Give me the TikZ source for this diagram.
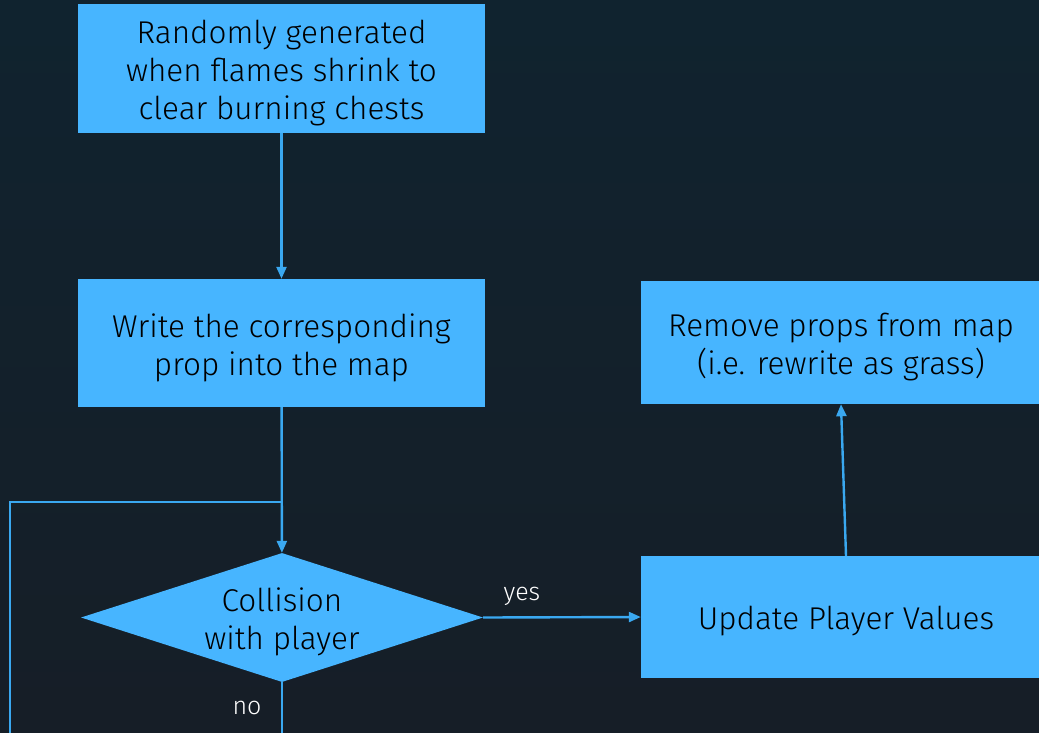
\documentclass[tikz,border=0pt]{standalone}
\usepackage{fontspec}
\setmainfont{Fira Sans}[UprightFont={* Light}]
\usetikzlibrary{shapes.geometric,arrows.meta}
\definecolor{bgtop}{HTML}{10232F}
\definecolor{bgbot}{HTML}{161E27}
\definecolor{boxblue}{HTML}{47B5FF}
\definecolor{linkblue}{HTML}{3AA8F0}
\tikzset{
  stepbox/.style={rectangle, fill=boxblue, draw=none, inner sep=0pt},
  decision/.style={diamond, fill=boxblue, draw=none, inner sep=0pt,
    aspect=3.1, minimum width=402pt, minimum height=129pt},
  boxtext/.style={align=center, inner sep=0pt, text=black,
    font=\fontsize{31.5}{38}\selectfont, yshift=-4.5pt},
  link/.style={draw=linkblue, line width=2.4pt, -{Triangle[length=12pt,width=10pt]}},
  plainlink/.style={draw=linkblue, line width=2.4pt},
  tag/.style={font=\fontsize{25}{28}\selectfont, text=white, inner sep=0pt}
}
\begin{document}
\begin{tikzpicture}[x=1pt,y=-1pt]
  \useasboundingbox (0,0) rectangle (1039,732);
  \shade[top color=bgtop, bottom color=bgbot] (0,0) rectangle (1039,732);
  \clip (0,0) rectangle (1039,732);

  % shapes
  \node[stepbox, minimum width=407pt, minimum height=129pt] (gen) at (281.5,68.5) {};
  \node[stepbox, minimum width=407pt, minimum height=128pt] (write) at (281.5,343) {};
  \node[decision] (hit) at (282,617.5) {};
  \node[stepbox, minimum width=410pt, minimum height=122pt] (upd) at (846,617) {};
  \node[stepbox, minimum width=400pt, minimum height=123pt] (rem) at (841,342.5) {};

  % their texts
  \node[boxtext] (gen-t) at (gen.center)
    {Randomly generated\\when flames shrink to\\clear burning chests};
  \node[boxtext] (write-t) at (write.center) {Write the corresponding\\prop into the map};
  \node[boxtext] (hit-t) at (hit.center) {Collision\\with player};
  \node[boxtext] (upd-t) at (upd.center) {Update Player Values};
  \node[boxtext] (rem-t) at (rem.center) {Remove props from map\\(i.e. rewrite as grass)};

  % loop back from the "no" branch
  \coordinate (join) at (282,502);
  \coordinate (loopcorner) at (10,745);

  \draw[link] (gen) -- (write);
  \draw[link] (write) -- (hit);
  \draw[plainlink] (hit.south) -- (hit.south |- loopcorner) -- (loopcorner) |- (join);
  \draw[link] (hit.east) -- (upd.west);
  \draw[link] (upd.north -| 846,0) -- (rem.south);

  % branch labels
  \node[tag] (yes) at (522,596) {yes};
  \node[tag] (no) at (247,708) {no};
\end{tikzpicture}
\end{document}
